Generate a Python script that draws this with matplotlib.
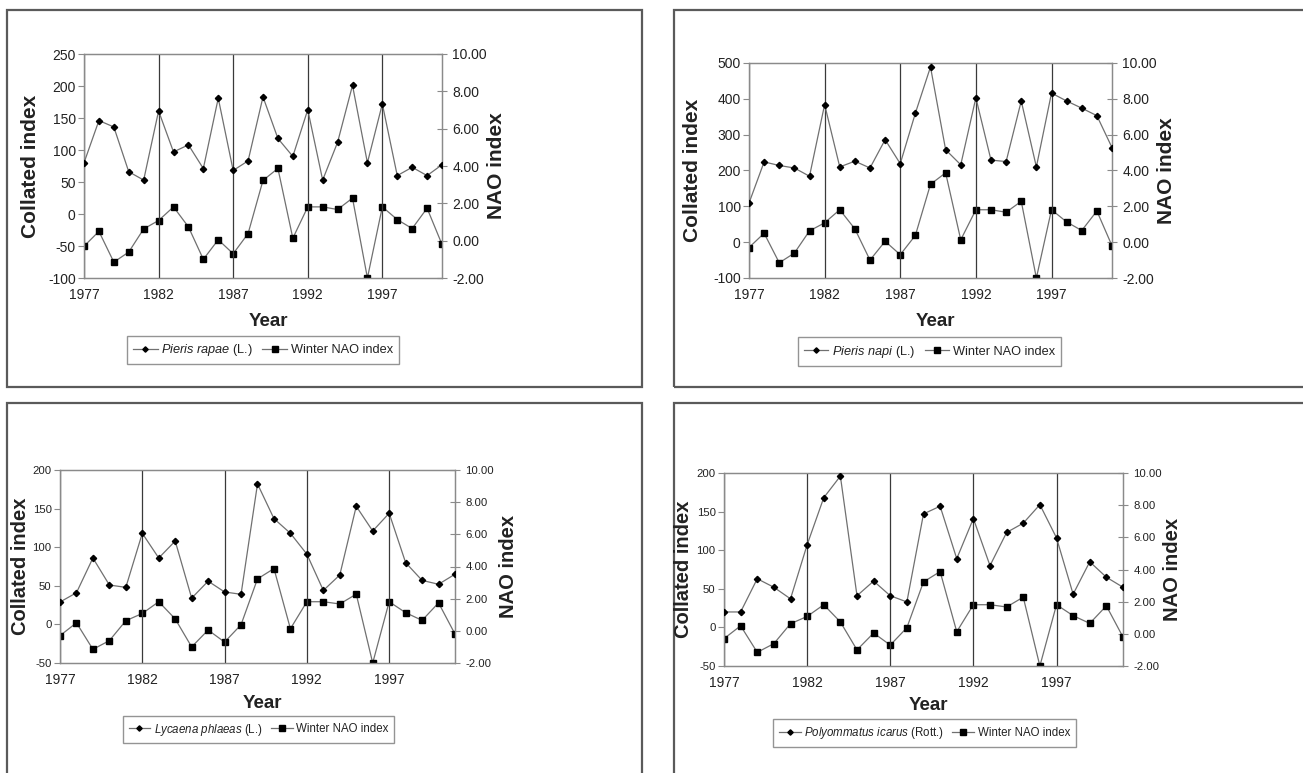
import matplotlib
matplotlib.use("Agg")
import matplotlib.pyplot as plt
from matplotlib.patches import Rectangle
from matplotlib.ticker import MultipleLocator, FormatStrFormatter, FixedLocator

plt.rcParams['font.family'] = ['Liberation Sans', 'DejaVu Sans']
plt.rcParams['axes.unicode_minus'] = False
plt.rcParams['mathtext.fontset'] = 'custom'
plt.rcParams['mathtext.it'] = 'Liberation Sans:italic'
plt.rcParams['mathtext.rm'] = 'Liberation Sans'

years = list(range(1977, 2002))

nao = [-0.30, 0.50, -1.15, -0.61, 0.63, 1.08, 1.81, 0.74, -1.00, 0.05,
       -0.70, 0.38, 3.23, 3.87, 0.13, 1.81, 1.81, 1.67, 2.28, -2.00,
       1.81, 1.13, 0.65, 1.74, -0.20]

pieris_rapae = [80, 146, 136, 66, 53, 161, 97, 108, 71, 181,
                68, 83, 183, 118, 90, 163, 53, 112, 201, 80,
                172, 60, 73, 60, 77]

pieris_napi = [109, 224, 214, 207, 184, 384, 210, 226, 207, 286,
               219, 360, 489, 258, 216, 403, 229, 225, 394, 210,
               416, 394, 374, 353, 264]

lycaena_phlaeas = [29, 41, 86, 51, 48, 118, 86, 108, 34, 56,
                   42, 39, 182, 137, 118, 91, 44, 64, 153, 121,
                   144, 80, 57, 52, 65]

polyommatus_icarus = [20, 20, 63, 52, 37, 107, 168, 196, 41, 60,
                      41, 33, 147, 157, 89, 141, 80, 123, 135, 159,
                      116, 43, 85, 65, 52]

species_labels = [r"$\it{Pieris\ rapae}$ (L.)",
                  r"$\it{Pieris\ napi}$ (L.)",
                  r"$\it{Lycaena\ phlaeas}$ (L.)",
                  r"$\it{Polyommatus\ icarus}$ (Rott.)"]
species_data = [pieris_rapae, pieris_napi, lycaena_phlaeas, polyommatus_icarus]
left_limits = [(-100, 250, 50), (-100, 500, 100), (-50, 200, 50), (-50, 200, 50)]
xticks = [1977, 1982, 1987, 1992, 1997]

W, H = 1303, 773
fig = plt.figure(figsize=(W / 100, H / 100), dpi=100)
fig.patch.set_facecolor('white')


def rect(l, t, r, b):
    return [l / W, 1 - b / H, (r - l) / W, (b - t) / H]


frames = [(7, 10, 642, 387), (674, 10, 1312, 387), (7, 403, 642, 782), (674, 403, 1312, 782)]
for (l, t, r, b) in frames:
    fig.patches.append(Rectangle((l / W, 1 - b / H), (r - l) / W, (b - t) / H,
                                 transform=fig.transFigure, fill=False,
                                 edgecolor='#5a5a5a', linewidth=1.6, clip_on=False))

axes_px = [(84, 54, 442, 278), (749, 63, 1112, 278), (60, 470, 455, 663), (724, 473, 1123, 666)]
legend_px = [(128, 336, 398, 364), (796, 337, 1063, 366), (122, 716, 395, 743), (773, 720, 1076, 746)]
ylab_x = [30, 693, 21, 684]
ylab2_x = [497, 1167, 508, 1173]
year_y = [321, 322, 703, 705]
ytick_fs = [10, 10, 8.2, 8.2]
xtick_fs = [10, 10, 10, 10]
leg_fs = [9.2, 9.2, 8.3, 8.3]
ylab_fs = [15, 15, 14.5, 14.5]

grey_line = '#707070'
spine_col = '#8a8a8a'

for i in range(4):
    l, t, r, b = axes_px[i]
    ax = fig.add_axes(rect(l, t, r, b))
    ax2 = ax.twinx()
    ax.set_zorder(ax2.get_zorder() + 1)
    ax.patch.set_visible(False)

    lo, hi, step = left_limits[i]
    ln1, = ax.plot(years, species_data[i], color=grey_line, lw=0.9, marker='D',
                   markersize=3.2, markerfacecolor='black', markeredgecolor='black',
                   label=species_labels[i], zorder=3)
    ln2, = ax2.plot(years, nao, color=grey_line, lw=0.9, marker='s',
                    markersize=5, markerfacecolor='black', markeredgecolor='black',
                    label='Winter NAO index', zorder=3)

    ax.set_xlim(1977, 2001)
    ax.set_ylim(lo, hi)
    ax.yaxis.set_major_locator(MultipleLocator(step))
    ax2.set_ylim(-2, 10)
    ax2.yaxis.set_major_locator(MultipleLocator(2))
    ax2.yaxis.set_major_formatter(FormatStrFormatter('%.2f'))

    ax.xaxis.set_major_locator(FixedLocator(xticks))
    ax.grid(axis='x', color='#3a3a3a', linewidth=0.9)
    ax.tick_params(axis='x', length=0, labelsize=xtick_fs[i], colors='#222222', pad=7)
    ax.tick_params(axis='y', direction='out', length=4, width=0.8, color=spine_col,
                   labelsize=ytick_fs[i], labelcolor='#222222', pad=2)
    ax2.tick_params(axis='y', direction='inout', length=7, width=0.8, color=spine_col,
                    labelsize=ytick_fs[i], labelcolor='#222222', pad=4)

    for a in (ax, ax2):
        for s in a.spines.values():
            s.set_color(spine_col)
            s.set_linewidth(0.9)

    cy = (t + b) / 2
    fig.text(ylab_x[i] / W, 1 - cy / H, 'Collated index', rotation=90,
             fontsize=ylab_fs[i], fontweight='bold', color='#222222', ha='center', va='center')
    fig.text(ylab2_x[i] / W, 1 - cy / H, 'NAO index', rotation=90,
             fontsize=ylab_fs[i], fontweight='bold', color='#222222', ha='center', va='center')
    fig.text(((l + r) / 2 + 5) / W, 1 - year_y[i] / H, 'Year',
             fontsize=13.5, fontweight='bold', color='#222222', ha='center', va='center')

    ll, lt, lr, lb = legend_px[i]
    leg = fig.legend(handles=[ln1, ln2], loc='center',
                     bbox_to_anchor=((ll + lr) / 2 / W, 1 - (lt + lb) / 2 / H),
                     ncol=2, frameon=True, fancybox=False, shadow=False,
                     edgecolor='#7a7a7a', fontsize=leg_fs[i], handlelength=1.9,
                     handletextpad=0.3, columnspacing=0.7, borderpad=0.5,
                     markerscale=0.85)
    leg.get_frame().set_linewidth(1.0)
    for txt in leg.get_texts():
        txt.set_color('#222222')

fig.savefig('out.png', dpi=100, facecolor='white')
